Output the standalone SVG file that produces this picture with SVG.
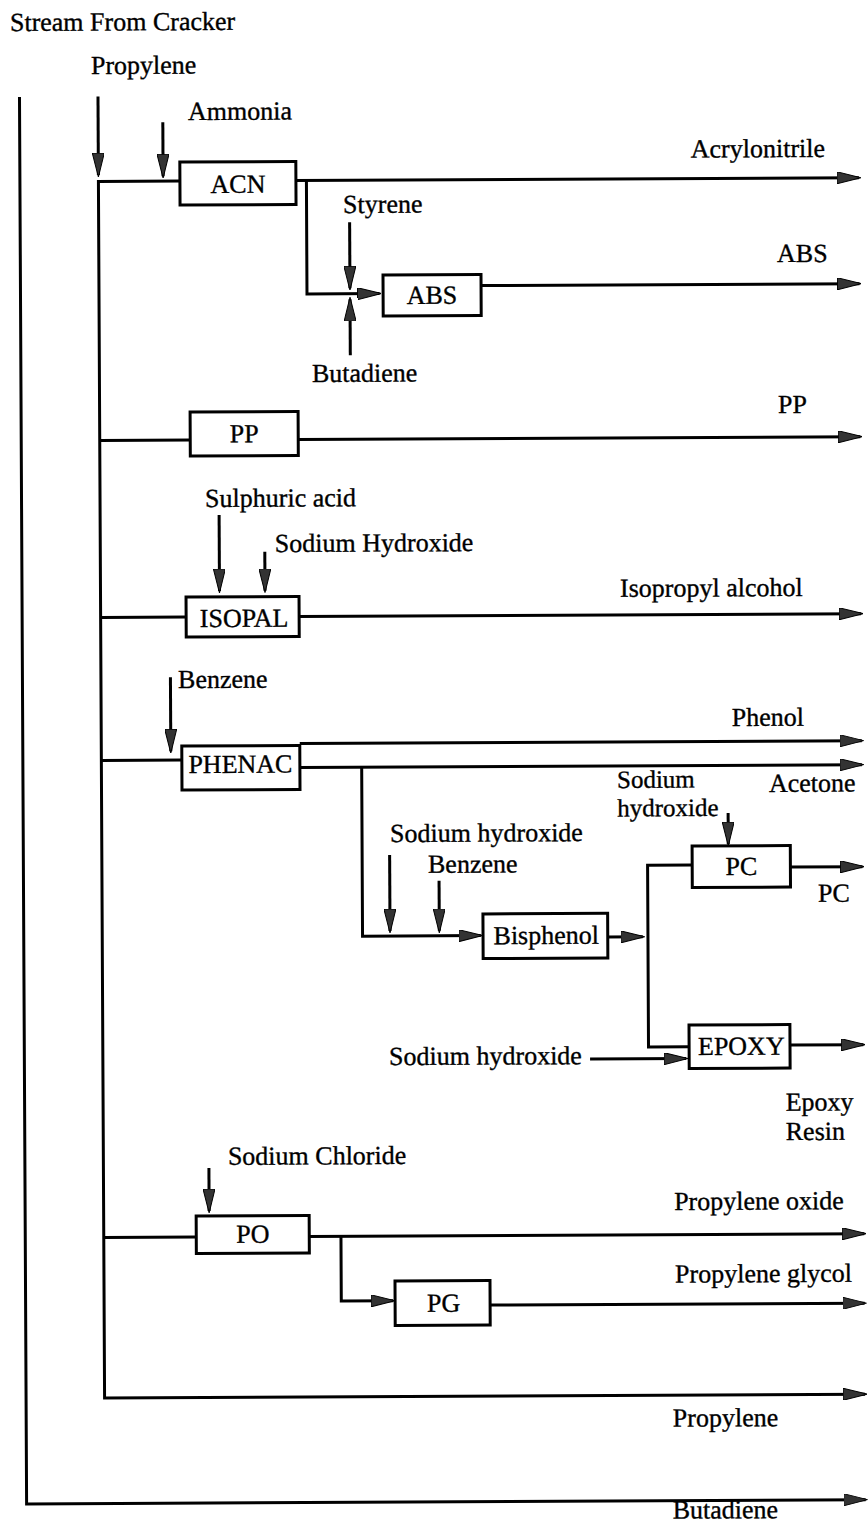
<svg xmlns="http://www.w3.org/2000/svg" width="868" height="1524" viewBox="0 0 868 1524">
<style>
.ln{fill:none;stroke:#000;stroke-width:3}
.ar{fill:none;stroke:#000;stroke-width:3;marker-end:url(#ah)}
.bx{fill:#fff;stroke:#000;stroke-width:3}
text{font-family:"Liberation Serif","Times New Roman",serif;font-size:26px;fill:#000;stroke:#000;stroke-width:0.35}
.c{text-anchor:middle}
.s{font-size:25px}
</style>
<defs>
<marker id="ah" markerUnits="userSpaceOnUse" markerWidth="24" markerHeight="12" refX="22" refY="6" orient="auto" viewBox="0 0 24 12">
<path d="M0,0 L24,6 L0,12 z" fill="#333" stroke="#000" stroke-width="1"/>
</marker>
</defs>
<rect width="868" height="1524" fill="#fff"/>
<g transform="rotate(-0.29)" font-family="Liberation Serif, serif">
<g id="connectors">
<path class="ar" d="M19,97 V1504 H858"/>
<path class="ar" d="M97.5,97 V175.5"/>
<path class="ar" d="M179,182 H97.5 V1398.5 H858"/>
<path class="ar" d="M162.2,123 V177"/>
<path class="ln" d="M97.5,441 H188"/>
<path class="ln" d="M97.5,618 H183"/>
<path class="ln" d="M97.5,761 H178"/>
<path class="ln" d="M97.5,1238 H190"/>
<path class="ar" d="M295,182 H858"/>
<path class="ar" d="M305.5,182 V295.5 H378"/>
<path class="ar" d="M348.5,224 V290"/>
<path class="ar" d="M348.5,357 V301"/>
<path class="ar" d="M479.5,288 H858"/>
<path class="ar" d="M296,441 H858"/>
<path class="ar" d="M216.5,516 V592"/>
<path class="ar" d="M262,553 V592"/>
<path class="ar" d="M296,618 H858"/>
<path class="ar" d="M167,678 V752"/>
<path class="ar" d="M296,745 H858"/>
<path class="ar" d="M296,769 H858"/>
<path class="ar" d="M357.8,769 V938 H476"/>
<path class="ar" d="M385.3,857 V933"/>
<path class="ar" d="M434.6,883 V933"/>
<path class="ar" d="M603,940 H638"/>
<path class="ln" d="M687.8,868.5 H643.2 V1050.3 H683.8"/>
<path class="ar" d="M786,871 H858"/>
<path class="ar" d="M724,816.6 V847.6"/>
<path class="ar" d="M784.7,1049 H858"/>
<path class="ar" d="M584.7,1062 H680.7"/>
<path class="ar" d="M203,1169 V1212"/>
<path class="ar" d="M303,1238 H858"/>
<path class="ar" d="M334.7,1238 V1302.7 H386.5"/>
<path class="ar" d="M483.4,1307.5 H858"/>
</g>
<g id="node-ACN"><rect class="bx" x="179" y="163" width="116" height="43"/><text class="c" x="237" y="194">ACN</text></g>
<g id="node-ABS"><rect class="bx" x="381.6" y="277" width="98" height="41"/><text class="c" x="430.5" y="306">ABS</text></g>
<g id="node-PP"><rect class="bx" x="188" y="413" width="108" height="44"/><text class="c" x="242" y="443.5">PP</text></g>
<g id="node-ISOPAL"><rect class="bx" x="183" y="598" width="113" height="40"/><text class="c" x="241" y="628">ISOPAL</text></g>
<g id="node-PHENAC"><rect class="bx" x="178" y="747" width="118" height="44"/><text class="c" x="236.5" y="774">PHENAC</text></g>
<g id="node-Bisphenol"><rect class="bx" x="478.3" y="916.4" width="124.7" height="44.6"/><text class="c" x="541.5" y="946.7">Bisphenol</text></g>
<g id="node-PC"><rect class="bx" x="687.8" y="849.5" width="98.2" height="41.5"/><text class="c" x="737" y="878.7">PC</text></g>
<g id="node-EPOXY"><rect class="bx" x="683.8" y="1028.5" width="100.9" height="43.5"/><text class="c" x="736" y="1058.5">EPOXY</text></g>
<g id="node-PO"><rect class="bx" x="190" y="1217" width="113" height="37.5"/><text class="c" x="246.5" y="1244">PO</text></g>
<g id="node-PG"><rect class="bx" x="388.5" y="1283" width="95" height="44.4"/><text class="c" x="437" y="1314">PG</text></g>
<g id="labels">
<text x="9.8" y="31">Stream From Cracker</text>
<text x="90.6" y="74.5">Propylene</text>
<text x="187.4" y="121">Ammonia</text>
<text x="690" y="161">Acrylonitrile</text>
<text x="342" y="214.7">Styrene</text>
<text x="775.7" y="266">ABS</text>
<text x="310" y="383.6">Butadiene</text>
<text x="776" y="417">PP</text>
<text x="202.5" y="508">Sulphuric acid</text>
<text x="272" y="553.4">Sodium Hydroxide</text>
<text x="617" y="600">Isopropyl alcohol</text>
<text x="174.6" y="689">Benzene</text>
<text x="728" y="729.7">Phenol</text>
<text class="s" x="613" y="791">Sodium</text>
<text class="s" x="613" y="819.5">hydroxide</text>
<text x="765" y="795.8">Acetone</text>
<text x="385.8" y="844">Sodium hydroxide</text>
<text x="423.6" y="875">Benzene</text>
<text x="813.5" y="906">PC</text>
<text x="383.7" y="1067">Sodium hydroxide</text>
<text><tspan x="780" y="1114.6">Epoxy</tspan><tspan x="780" y="1144">Resin</tspan></text>
<text x="222" y="1166">Sodium Chloride</text>
<text x="668" y="1213.4">Propylene oxide</text>
<text x="668.6" y="1286">Propylene glycol</text>
<text x="665.6" y="1430">Propylene</text>
<text x="665" y="1522">Butadiene</text>
</g>
</g>
</svg>
